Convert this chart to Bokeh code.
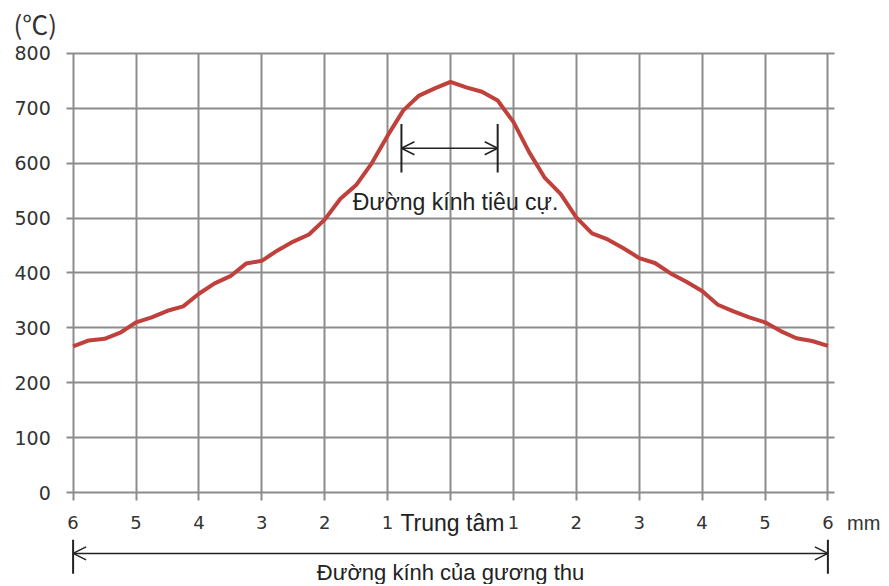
from bokeh.plotting import figure
from bokeh.models import FixedTicker, Range1d, Label, Arrow, OpenHead
from bokeh.embed import file_html
from bokeh.resources import INLINE

# distance from centre of the receiver mirror (mm), left side negative
positions_mm = [-6.0, -5.75, -5.5, -5.25, -5.0, -4.75, -4.5, -4.25, -4.0, -3.75, -3.5, -3.25,
                -3.0, -2.75, -2.5, -2.25, -2.0, -1.75, -1.5, -1.25, -1.0, -0.75, -0.5, -0.25,
                0.0, 0.25, 0.5, 0.75, 1.0, 1.25, 1.5, 1.75, 2.0, 2.25, 2.5, 2.75,
                3.0, 3.25, 3.5, 3.75, 4.0, 4.25, 4.5, 4.75, 5.0, 5.25, 5.5, 5.75, 6.0]
# temperature (°C)
temperatures = [266, 277, 280, 291, 310, 319, 331, 339, 362, 381, 394, 417,
                422, 441, 457, 470, 497, 535, 560, 600, 650, 696, 723, 736,
                748, 738, 730, 714, 675, 620, 573, 544, 501, 472, 461, 445,
                427, 418, 399, 384, 367, 342, 330, 319, 310, 294, 281, 276, 267]

x_ticks = [-6, -5, -4, -3, -2, -1, 0, 1, 2, 3, 4, 5, 6]
x_tick_labels = ["6", "5", "4", "3", "2", "1", "", "1", "2", "3", "4", "5", "6"]
center_label = "Trung tâm"
y_ticks = [0, 100, 200, 300, 400, 500, 600, 700, 800]

focal_span = [-0.78, 0.75]      # focal diameter marker (mm)
mirror_span = [-6, 6]           # receiver mirror diameter (mm)

# layout (canvas pixels)
W, H = 886, 584
X0_PX, PX_PER_MM = 450.0, 62.9
Y0_PX, PX_PER_DEG = 492.0, 0.549
PAD = 0.1  # horizontal gridlines run a little past the outer columns

GRID = "#8c8c8c"
TXT = "#333333"
ARROW = "#222222"

p = figure(width=W, height=H, output_backend="svg", toolbar_location=None, title=None,
           x_range=Range1d(-X0_PX / PX_PER_MM, (W - X0_PX) / PX_PER_MM),
           y_range=Range1d(-(H - Y0_PX) / PX_PER_DEG, Y0_PX / PX_PER_DEG),
           min_border=0)
p.outline_line_color = None

xmin, xmax = x_ticks[0] - PAD, x_ticks[-1] + PAD

p.xaxis.fixed_location = 0
p.xaxis.ticker = FixedTicker(ticks=x_ticks)
p.xaxis.major_label_overrides = {t: l for t, l in zip(x_ticks, x_tick_labels)}
p.xaxis.axis_line_color = None
p.xaxis.major_tick_line_color = GRID
p.xaxis.major_tick_line_width = 2
p.xaxis.major_tick_out = 8
p.xaxis.major_tick_in = 0
p.xaxis.minor_tick_line_color = None
p.xaxis.major_label_standoff = 15
p.xaxis.major_label_text_font = "DejaVu Sans"
p.xaxis.major_label_text_font_size = "18px"
p.xaxis.major_label_text_color = TXT

p.yaxis.fixed_location = xmin
p.yaxis.ticker = FixedTicker(ticks=y_ticks)
p.yaxis.axis_line_color = None
p.yaxis.major_tick_line_color = None
p.yaxis.major_tick_out = 0
p.yaxis.major_tick_in = 0
p.yaxis.minor_tick_line_color = None
p.yaxis.major_label_standoff = 16
p.yaxis.major_label_text_font = "DejaVu Sans"
p.yaxis.major_label_text_font_size = "19px"
p.yaxis.major_label_text_color = TXT

p.xgrid.ticker = FixedTicker(ticks=x_ticks)
p.ygrid.ticker = FixedTicker(ticks=y_ticks)
p.xgrid.cross_bounds = (y_ticks[0], y_ticks[-1])
p.ygrid.cross_bounds = (xmin, xmax)
for g in (p.xgrid, p.ygrid):
    g.grid_line_color = GRID
    g.grid_line_width = 2

p.line(positions_mm, temperatures, line_color="#C0403C", line_width=4, line_join="round")

# focal diameter marker
fy = 627
p.add_layout(Arrow(x_start=focal_span[0], y_start=fy, x_end=focal_span[1], y_end=fy,
                   start=OpenHead(size=13, line_width=1.5, line_color=ARROW),
                   end=OpenHead(size=13, line_width=1.5, line_color=ARROW),
                   line_width=1.5, line_color=ARROW))
for xv in focal_span:
    p.add_layout(Arrow(x_start=xv, y_start=583, x_end=xv, y_end=671, start=None, end=None,
                       line_width=2, line_color=ARROW))
p.add_layout(Label(x=0.08, y=530, text="Đường kính tiêu cự.", text_align="center",
                   text_baseline="middle", text_font="Liberation Sans", text_font_size="23px",
                   text_color=ARROW))

# mirror diameter marker (below the axis)
my = -111
p.add_layout(Arrow(x_start=mirror_span[0], y_start=my, x_end=mirror_span[1], y_end=my,
                   start=OpenHead(size=13, line_width=1.5, line_color=ARROW),
                   end=OpenHead(size=13, line_width=1.5, line_color=ARROW),
                   line_width=1.5, line_color=ARROW))
for xv in mirror_span:
    p.add_layout(Arrow(x_start=xv, y_start=-86, x_end=xv, y_end=-148, start=None, end=None,
                       line_width=2, line_color=ARROW))
p.add_layout(Label(x=0.0, y=-145, text="Đường kính của gương thu", text_align="center",
                   text_baseline="middle", text_font="Liberation Sans", text_font_size="22px",
                   text_color=ARROW))

p.add_layout(Label(x=0.03, y=-55, text=center_label, text_align="center", text_baseline="middle",
                   text_font="Liberation Sans", text_font_size="23px", text_color=ARROW))
p.add_layout(Label(x=6.57, y=-55, text="mm", text_align="center", text_baseline="middle",
                   text_font="Liberation Sans", text_font_size="20px", text_color=TXT))
p.add_layout(Label(x=-6.6, y=854, text="(℃)", text_align="center", text_baseline="middle",
                   text_font="Noto Sans CJK JP", text_font_size="26px", text_color=TXT))

open("out.html", "w").write(file_html(p, INLINE))
